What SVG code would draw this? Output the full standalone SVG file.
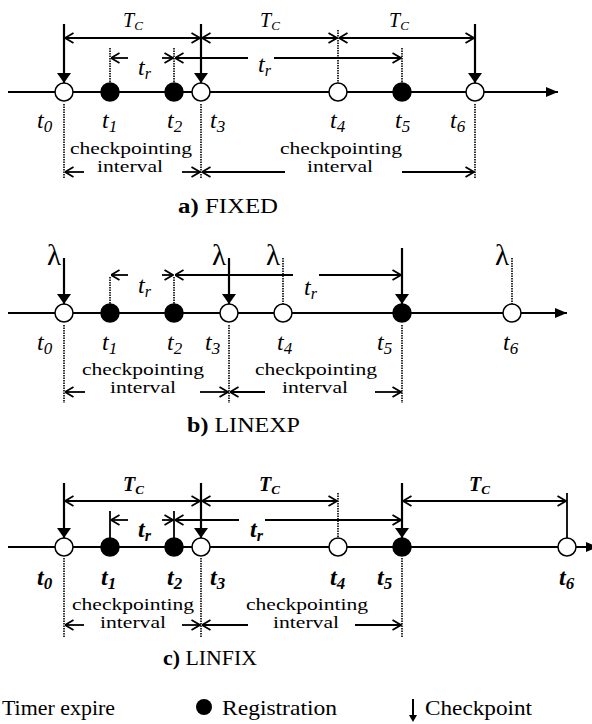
<svg xmlns="http://www.w3.org/2000/svg" width="592" height="724" viewBox="0 0 592 724" font-family="'Liberation Serif','Times New Roman',serif">
<style>
text{font-family:"Liberation Serif","Times New Roman",serif;fill:#000}
.ax{stroke:#000;stroke-width:2.2;fill:none}
.dim{stroke:#000;stroke-width:1.8;fill:none}
.dot{stroke:#000;stroke-width:1.6;stroke-dasharray:1.5 1;fill:none}
.cp{stroke:#000;stroke-width:2.2;fill:none}
.sl{stroke:#000;stroke-width:1.8;fill:none}
.open{fill:#fff;stroke:#000;stroke-width:1.5}
.reg{fill:#000;stroke:#000;stroke-width:1.5}
.t{font-style:italic;font-size:24px}
.tb{font-style:italic;font-weight:bold;font-size:24px}
.sub{font-size:17px}
.TC{font-style:italic;font-size:20px}
.subC{font-size:13px}
.tr{font-style:italic;font-size:24px}
.subr{font-size:16px}
.lam{font-size:29px}
.lbl{font-size:16px}
.cap{font-size:20px}
.leg{font-size:21px}
</style>
<defs>
<marker id="chev" viewBox="0 0 10 12" refX="9.5" refY="6" markerWidth="10" markerHeight="12" markerUnits="userSpaceOnUse" orient="auto-start-reverse"><path d="M1,1 L9.5,6 L1,11" fill="none" stroke="#000" stroke-width="1.8"/></marker>
<marker id="tri" viewBox="0 0 10 14" refX="10" refY="7" markerWidth="10" markerHeight="14" markerUnits="userSpaceOnUse" orient="auto"><path d="M0,0 L10,7 L0,14 z" fill="#000"/></marker>
<marker id="axa" viewBox="0 0 12 10" refX="12" refY="5" markerWidth="12" markerHeight="10" markerUnits="userSpaceOnUse" orient="auto"><path d="M0,0 L12,5 L0,10 z" fill="#000"/></marker>
</defs>

<!-- ================= Panel a ================= -->
<g id="connectors-a">
<line class="ax" x1="8" y1="92" x2="558" y2="92" marker-end="url(#axa)"/>
<line class="cp" x1="64" y1="24" x2="64" y2="83" marker-end="url(#tri)"/>
<line class="cp" x1="201" y1="24" x2="201" y2="83" marker-end="url(#tri)"/>
<line class="cp" x1="475" y1="24" x2="475" y2="83" marker-end="url(#tri)"/>
<line class="dot" x1="338" y1="30" x2="338" y2="83"/>
<line class="dot" x1="110" y1="48" x2="110" y2="83"/>
<line class="dot" x1="174" y1="48" x2="174" y2="83"/>
<line class="dot" x1="402" y1="48" x2="402" y2="83"/>
<line class="dim" x1="65" y1="38" x2="200" y2="38" marker-start="url(#chev)" marker-end="url(#chev)"/>
<line class="dim" x1="202" y1="38" x2="337" y2="38" marker-start="url(#chev)" marker-end="url(#chev)"/>
<line class="dim" x1="339" y1="38" x2="474" y2="38" marker-start="url(#chev)" marker-end="url(#chev)"/>
<line class="dim" x1="128" y1="58" x2="111" y2="58" marker-end="url(#chev)"/>
<line class="dim" x1="162" y1="58" x2="173" y2="58" marker-end="url(#chev)"/>
<line class="dim" x1="248" y1="58" x2="175" y2="58" marker-end="url(#chev)"/>
<line class="dim" x1="274" y1="58" x2="401" y2="58" marker-end="url(#chev)"/>
<line class="dot" x1="64" y1="104" x2="64" y2="178"/>
<line class="dot" x1="201" y1="104" x2="201" y2="178"/>
<line class="dot" x1="475" y1="104" x2="475" y2="178"/>
<line class="dim" x1="84" y1="172" x2="65" y2="172" marker-end="url(#chev)"/>
<line class="dim" x1="182" y1="172" x2="200" y2="172" marker-end="url(#chev)"/>
<line class="dim" x1="285" y1="172" x2="202" y2="172" marker-end="url(#chev)"/>
<line class="dim" x1="402" y1="172" x2="474" y2="172" marker-end="url(#chev)"/>
</g>
<g id="a-t0"><circle class="open" cx="64" cy="92" r="9"/><text class="t" x="37" y="128">t<tspan class="sub" dy="4">0</tspan></text></g>
<g id="a-t1"><circle class="reg" cx="110" cy="92" r="9"/><text class="t" x="102" y="128">t<tspan class="sub" dy="4">1</tspan></text></g>
<g id="a-t2"><circle class="reg" cx="174" cy="92" r="9"/><text class="t" x="167" y="128">t<tspan class="sub" dy="4">2</tspan></text></g>
<g id="a-t3"><circle class="open" cx="201" cy="92" r="9"/><text class="t" x="210" y="128">t<tspan class="sub" dy="4">3</tspan></text></g>
<g id="a-t4"><circle class="open" cx="338" cy="92" r="9"/><text class="t" x="330" y="128">t<tspan class="sub" dy="4">4</tspan></text></g>
<g id="a-t5"><circle class="reg" cx="402" cy="92" r="9"/><text class="t" x="395" y="128">t<tspan class="sub" dy="4">5</tspan></text></g>
<g id="a-t6"><circle class="open" cx="475" cy="92" r="9"/><text class="t" x="450" y="128">t<tspan class="sub" dy="4">6</tspan></text></g>
<g id="a-labels">
<text class="TC" x="123" y="27">T<tspan class="subC" dy="3">C</tspan></text>
<text class="TC" x="260" y="27">T<tspan class="subC" dy="3">C</tspan></text>
<text class="TC" x="389" y="27">T<tspan class="subC" dy="3">C</tspan></text>
<text class="tr" x="138" y="75">t<tspan class="subr" dy="4">r</tspan></text>
<text class="tr" x="258" y="72">t<tspan class="subr" dy="4">r</tspan></text>
<text class="lbl" x="131" y="154" text-anchor="middle" textLength="122" lengthAdjust="spacingAndGlyphs">checkpointing</text>
<text class="lbl" x="130" y="172" text-anchor="middle" textLength="66" lengthAdjust="spacingAndGlyphs">interval</text>
<text class="lbl" x="341" y="154" text-anchor="middle" textLength="122" lengthAdjust="spacingAndGlyphs">checkpointing</text>
<text class="lbl" x="340" y="172" text-anchor="middle" textLength="66" lengthAdjust="spacingAndGlyphs">interval</text>
<text class="cap" x="178" y="213" textLength="100" lengthAdjust="spacingAndGlyphs"><tspan font-weight="bold">a)</tspan> FIXED</text>
</g>

<!-- ================= Panel b ================= -->
<g id="connectors-b">
<line class="ax" x1="8" y1="313" x2="567" y2="313" marker-end="url(#axa)"/>
<line class="cp" x1="64" y1="258" x2="64" y2="304" marker-end="url(#tri)"/>
<line class="cp" x1="229" y1="258" x2="229" y2="304" marker-end="url(#tri)"/>
<line class="cp" x1="402" y1="248" x2="402" y2="304" marker-end="url(#tri)"/>
<line class="dot" x1="283" y1="258" x2="283" y2="304"/>
<line class="dot" x1="512" y1="258" x2="512" y2="304"/>
<line class="dot" x1="110" y1="277" x2="110" y2="304"/>
<line class="dot" x1="174" y1="277" x2="174" y2="304"/>
<line class="dim" x1="128" y1="275" x2="111" y2="275" marker-end="url(#chev)"/>
<line class="dim" x1="162" y1="275" x2="173" y2="275" marker-end="url(#chev)"/>
<line class="dim" x1="293" y1="275" x2="175" y2="275" marker-end="url(#chev)"/>
<line class="dim" x1="319" y1="275" x2="401" y2="275" marker-end="url(#chev)"/>
<line class="dot" x1="64" y1="325" x2="64" y2="403"/>
<line class="dot" x1="229" y1="325" x2="229" y2="403"/>
<line class="dot" x1="402" y1="325" x2="402" y2="403"/>
<line class="dim" x1="85" y1="392" x2="65" y2="392" marker-end="url(#chev)"/>
<line class="dim" x1="200" y1="392" x2="228" y2="392" marker-end="url(#chev)"/>
<line class="dim" x1="265" y1="392" x2="230" y2="392" marker-end="url(#chev)"/>
<line class="dim" x1="375" y1="392" x2="401" y2="392" marker-end="url(#chev)"/>
</g>
<g id="b-t0"><circle class="open" cx="64" cy="313" r="9"/><text class="t" x="37" y="350">t<tspan class="sub" dy="4">0</tspan></text><text class="lam" x="47" y="265">λ</text></g>
<g id="b-t1"><circle class="reg" cx="110" cy="313" r="9"/><text class="t" x="102" y="350">t<tspan class="sub" dy="4">1</tspan></text></g>
<g id="b-t2"><circle class="reg" cx="174" cy="313" r="9"/><text class="t" x="167" y="350">t<tspan class="sub" dy="4">2</tspan></text></g>
<g id="b-t3"><circle class="open" cx="229" cy="313" r="9"/><text class="t" x="205" y="350">t<tspan class="sub" dy="4">3</tspan></text><text class="lam" x="212" y="265">λ</text></g>
<g id="b-t4"><circle class="open" cx="283" cy="313" r="9"/><text class="t" x="277" y="350">t<tspan class="sub" dy="4">4</tspan></text><text class="lam" x="266" y="265">λ</text></g>
<g id="b-t5"><circle class="reg" cx="402" cy="313" r="9"/><text class="t" x="377" y="350">t<tspan class="sub" dy="4">5</tspan></text></g>
<g id="b-t6"><circle class="open" cx="512" cy="313" r="9"/><text class="t" x="503" y="350">t<tspan class="sub" dy="4">6</tspan></text><text class="lam" x="495" y="265">λ</text></g>
<g id="b-labels">
<text class="tr" x="138" y="293">t<tspan class="subr" dy="4">r</tspan></text>
<text class="tr" x="304" y="295">t<tspan class="subr" dy="4">r</tspan></text>
<text class="lbl" x="143" y="375" text-anchor="middle" textLength="122" lengthAdjust="spacingAndGlyphs">checkpointing</text>
<text class="lbl" x="143" y="393" text-anchor="middle" textLength="66" lengthAdjust="spacingAndGlyphs">interval</text>
<text class="lbl" x="316" y="375" text-anchor="middle" textLength="122" lengthAdjust="spacingAndGlyphs">checkpointing</text>
<text class="lbl" x="315" y="393" text-anchor="middle" textLength="66" lengthAdjust="spacingAndGlyphs">interval</text>
<text class="cap" x="187" y="432" textLength="113" lengthAdjust="spacingAndGlyphs"><tspan font-weight="bold">b)</tspan> LINEXP</text>
</g>

<!-- ================= Panel c ================= -->
<g id="connectors-c">
<line class="ax" x1="8" y1="547" x2="598" y2="547" marker-end="url(#axa)"/>
<line class="cp" x1="64" y1="483" x2="64" y2="538" marker-end="url(#tri)"/>
<line class="cp" x1="201" y1="483" x2="201" y2="538" marker-end="url(#tri)"/>
<line class="cp" x1="402" y1="483" x2="402" y2="538" marker-end="url(#tri)"/>
<line class="dot" x1="338" y1="493" x2="338" y2="538"/>
<line class="sl" x1="567" y1="493" x2="567" y2="538"/>
<line class="sl" x1="110" y1="511" x2="110" y2="538"/>
<line class="sl" x1="174" y1="511" x2="174" y2="538"/>
<line class="dim" x1="65" y1="501" x2="200" y2="501" marker-start="url(#chev)" marker-end="url(#chev)"/>
<line class="dim" x1="202" y1="501" x2="337" y2="501" marker-start="url(#chev)" marker-end="url(#chev)"/>
<line class="dim" x1="403" y1="501" x2="566" y2="501" marker-start="url(#chev)" marker-end="url(#chev)"/>
<line class="dim" x1="128" y1="520" x2="111" y2="520" marker-end="url(#chev)"/>
<line class="dim" x1="162" y1="520" x2="173" y2="520" marker-end="url(#chev)"/>
<line class="dim" x1="239" y1="520" x2="175" y2="520" marker-end="url(#chev)"/>
<line class="dim" x1="265" y1="520" x2="401" y2="520" marker-end="url(#chev)"/>
<line class="dot" x1="64" y1="558" x2="64" y2="637"/>
<line class="dot" x1="201" y1="558" x2="201" y2="637"/>
<line class="dot" x1="402" y1="558" x2="402" y2="637"/>
<line class="dim" x1="84" y1="625" x2="65" y2="625" marker-end="url(#chev)"/>
<line class="dim" x1="182" y1="625" x2="200" y2="625" marker-end="url(#chev)"/>
<line class="dim" x1="248" y1="625" x2="202" y2="625" marker-end="url(#chev)"/>
<line class="dim" x1="355" y1="625" x2="401" y2="625" marker-end="url(#chev)"/>
</g>
<g id="c-t0"><circle class="open" cx="64" cy="547" r="9"/><text class="tb" x="37" y="585">t<tspan class="sub" dy="4">0</tspan></text></g>
<g id="c-t1"><circle class="reg" cx="110" cy="547" r="9"/><text class="tb" x="101" y="585">t<tspan class="sub" dy="4">1</tspan></text></g>
<g id="c-t2"><circle class="reg" cx="174" cy="547" r="9"/><text class="tb" x="167" y="585">t<tspan class="sub" dy="4">2</tspan></text></g>
<g id="c-t3"><circle class="open" cx="201" cy="547" r="9"/><text class="tb" x="210" y="585">t<tspan class="sub" dy="4">3</tspan></text></g>
<g id="c-t4"><circle class="open" cx="338" cy="547" r="9"/><text class="tb" x="330" y="585">t<tspan class="sub" dy="4">4</tspan></text></g>
<g id="c-t5"><circle class="reg" cx="402" cy="547" r="9"/><text class="tb" x="377" y="585">t<tspan class="sub" dy="4">5</tspan></text></g>
<g id="c-t6"><circle class="open" cx="567" cy="547" r="9"/><text class="tb" x="559" y="585">t<tspan class="sub" dy="4">6</tspan></text></g>
<g id="c-labels">
<text class="TC" x="123" y="491" font-weight="bold">T<tspan class="subC" dy="3">C</tspan></text>
<text class="TC" x="259" y="491" font-weight="bold">T<tspan class="subC" dy="3">C</tspan></text>
<text class="TC" x="469" y="491" font-weight="bold">T<tspan class="subC" dy="3">C</tspan></text>
<text class="tr" x="138" y="537" font-weight="bold">t<tspan class="subr" dy="4">r</tspan></text>
<text class="tr" x="250" y="537" font-weight="bold">t<tspan class="subr" dy="4">r</tspan></text>
<text class="lbl" x="133" y="610" text-anchor="middle" textLength="122" lengthAdjust="spacingAndGlyphs">checkpointing</text>
<text class="lbl" x="133" y="628" text-anchor="middle" textLength="66" lengthAdjust="spacingAndGlyphs">interval</text>
<text class="lbl" x="307" y="610" text-anchor="middle" textLength="122" lengthAdjust="spacingAndGlyphs">checkpointing</text>
<text class="lbl" x="306" y="628" text-anchor="middle" textLength="66" lengthAdjust="spacingAndGlyphs">interval</text>
<text class="cap" x="163" y="665" textLength="94" lengthAdjust="spacingAndGlyphs"><tspan font-weight="bold">c)</tspan> LINFIX</text>
</g>

<!-- ================= Legend ================= -->
<g id="legend-timer"><text class="leg" x="2" y="715" textLength="113" lengthAdjust="spacingAndGlyphs">Timer expire</text></g>
<g id="legend-registration"><circle cx="204" cy="707" r="8" fill="#000"/><text class="leg" x="222" y="715" textLength="115" lengthAdjust="spacingAndGlyphs">Registration</text></g>
<g id="legend-checkpoint"><line x1="413" y1="699" x2="413" y2="717" stroke="#000" stroke-width="2"/><path d="M409,715 L417,715 L413,722 z" fill="#000"/><text class="leg" x="425" y="715" textLength="107" lengthAdjust="spacingAndGlyphs">Checkpoint</text></g>
</svg>
